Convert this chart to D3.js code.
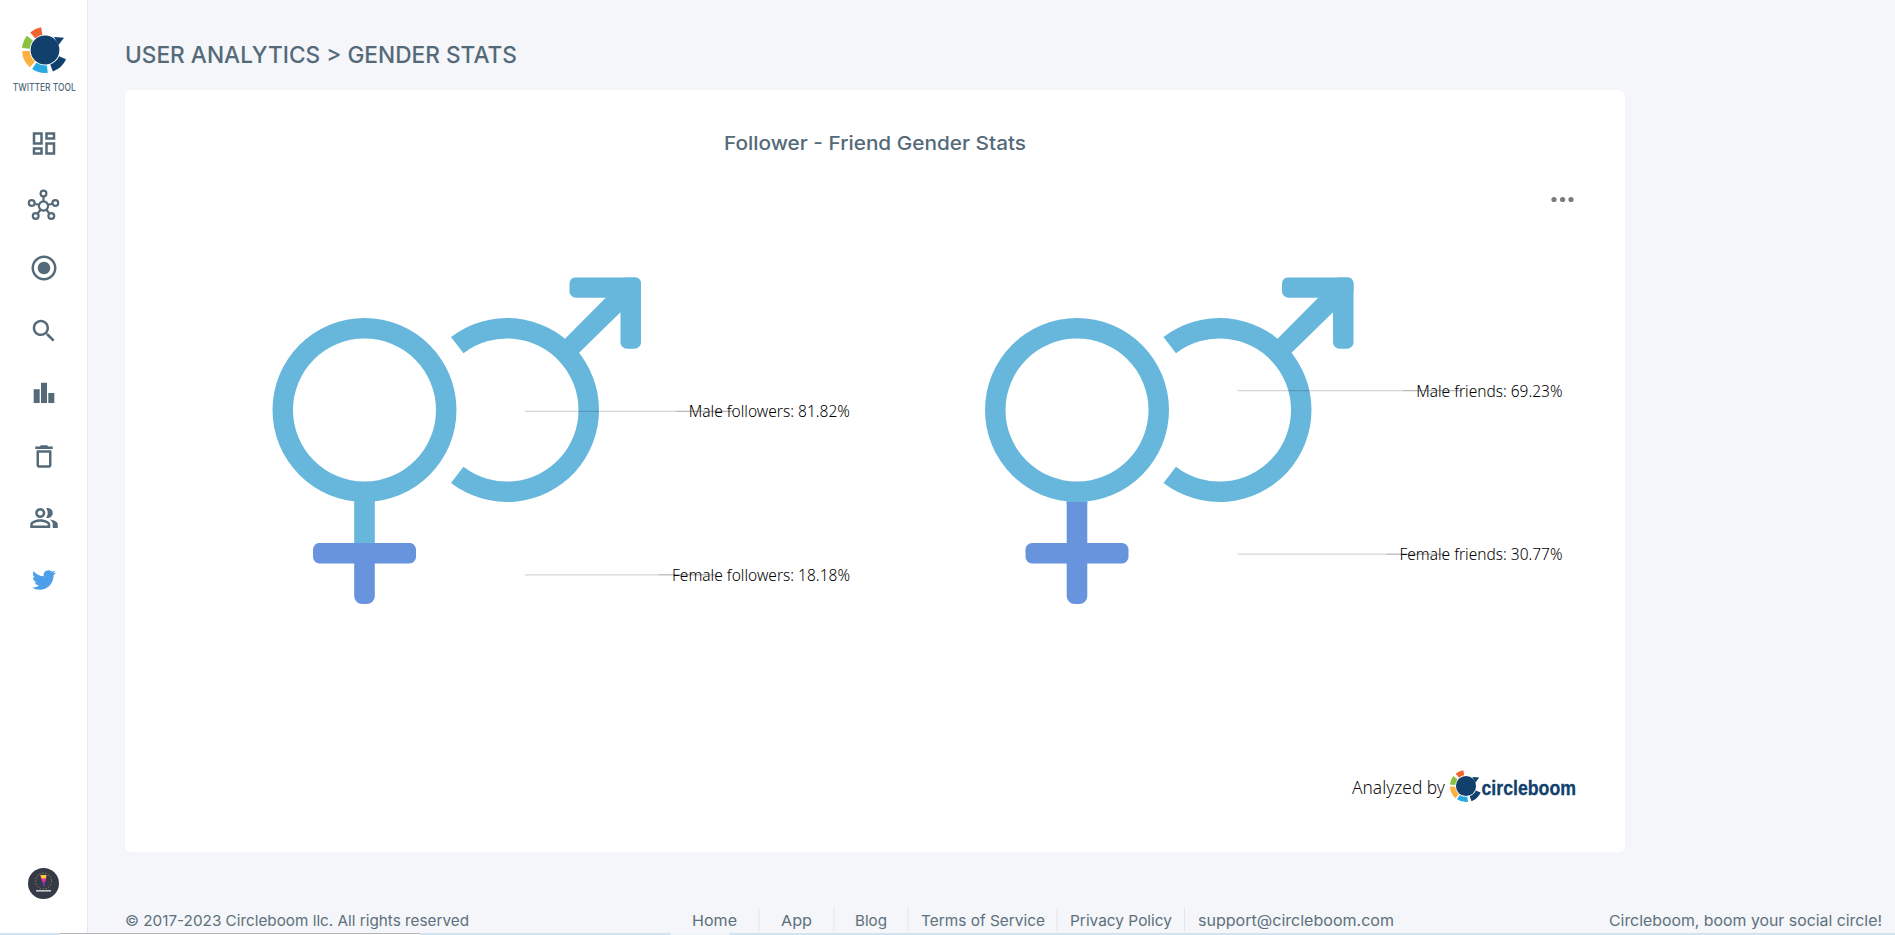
<!DOCTYPE html>
<html>
<head>
<meta charset="utf-8">
<script src="https://cdn.jsdelivr.net/npm/d3@7"></script>
<style>
  body { margin: 0; background: #f4f6fa; overflow: hidden; }
  svg { display: block; }
  text { font-family: Inter, "Noto Sans", sans-serif; }
  .label { font-family: "Noto Sans", sans-serif; }
</style>
</head>
<body>
<svg id="page" width="1895" height="935"></svg>
<script>
// chart values
var chartNames = ["followers", "friends"]
var sliceKeys = ["Female", "Male"]
var femaleValues = [18.18, 30.77]
var maleValues = [81.82, 69.23]
var sliceColors = ["#6794dc", "#67b7dc"]

// page text
var pageTitle = "USER ANALYTICS > GENDER STATS"
var cardTitle = "Follower - Friend Gender Stats"
var footerLinks = ["Home", "App", "Blog", "Terms of Service", "Privacy Policy", "support@circleboom.com"]
var footerLeft = "\u00a9 2017-2023 Circleboom llc. All rights reserved"
var footerRight = "Circleboom, boom your social circle!"

var textColor = "#546a79"
var footerColor = "#5e707c"
var svg = d3.select("#page")
var defs = svg.append("defs")

function deg(a) { return a * Math.PI / 180 }

// fixed-width text, the app font is not installed so widths are forced
function addText(parent, str, x, y, width, size, weight, color) {
  return parent.append("text")
    .attr("x", x).attr("y", y)
    .attr("dominant-baseline", "central")
    .attr("font-size", size)
    .attr("font-weight", weight || 400)
    .attr("fill", color || textColor)
    .attr("textLength", width)
    .attr("lengthAdjust", "spacingAndGlyphs")
    .text(str)
}

/* page frame */
svg.append("rect").attr("width", 87).attr("height", 935).attr("fill", "#fff")
svg.append("rect").attr("x", 87).attr("width", 1).attr("height", 935).attr("fill", "#e4e7f2")
svg.append("rect").attr("x", 125).attr("y", 90).attr("width", 1500).attr("height", 762)
  .attr("rx", 6).attr("fill", "#fff")

addText(svg, pageTitle, 125, 55, 392, 23, 500)
addText(svg, cardTitle, 724, 143, 302, 19, 500)

svg.selectAll(".dot")
  .data([1554, 1562.6, 1571])
  .enter()
  .append("circle")
    .attr("class", "dot")
    .attr("cx", d => d).attr("cy", 199.5).attr("r", 2.6)
    .attr("fill", "#7b7b7b")

/* circleboom logo */
function drawLogo(parent, cx, cy, k) {
  var g = parent.append("g").attr("transform", "translate(" + cx + "," + cy + ") scale(" + k + ")")
  var ring = d3.arc().innerRadius(15.4).outerRadius(23)
  var pieces = [
    [-40, -9.6, "#f0642f"],
    [-85, -52, "#8cc13f"],
    [-139, -93, "#fbb040"],
    [-187, -146, "#29a9e1"],
    [114, 160, "#11406d"]
  ]
  g.selectAll(".seg")
    .data(pieces)
    .enter()
    .append("path")
      .attr("d", d => ring({ startAngle: deg(d[0]), endAngle: deg(d[1]) }))
      .attr("fill", d => d[2])
  g.append("circle").attr("r", 14.4).attr("fill", "#11406d")
  g.append("path").attr("d", "M9 -13 L19 -12.3 L13.5 -5 Z").attr("fill", "#11406d")
}
drawLogo(svg, 45, 50, 1)
addText(svg, "TWITTER TOOL", 12.7, 87.5, 63, 10.5, 500)

/* sidebar icons */
var iconPaths = {
  dashboard: "M19 5v2h-4V5h4M9 5v6H5V5h4m10 8v6h-4v-6h4M9 17v2H5v-2h4M21 3h-8v6h8V3zM11 3H3v10h8V3zm10 8h-8v10h8V11zm-10 4H3v6h8v-6z",
  radio: "M12 7c-2.76 0-5 2.24-5 5s2.24 5 5 5 5-2.24 5-5-2.24-5-5-5zm0-5C6.48 2 2 6.48 2 12s4.48 10 10 10 10-4.48 10-10S17.52 2 12 2zm0 18c-4.42 0-8-3.58-8-8s3.58-8 8-8 8 3.58 8 8-3.58 8-8 8z",
  search: "M15.5 14h-.79l-.28-.27C15.41 12.59 16 11.11 16 9.5 16 5.91 13.09 3 9.5 3S3 5.91 3 9.5 5.91 16 9.5 16c1.61 0 3.09-.59 4.23-1.57l.27.28v.79l5 4.99L20.49 19l-4.99-5zm-6 0C7.01 14 5 11.99 5 9.5S7.01 5 9.5 5 14 7.01 14 9.5 11.99 14 9.5 14z",
  bars: "M3.75 9h4.8v11h-4.8zM9.6 3.8h4.8v16.2h-4.8zM15.45 12h4.8v8h-4.8z",
  trash: "M6 19c0 1.1.9 2 2 2h8c1.1 0 2-.9 2-2V7H6v12zM8 9h8v10H8V9zm7.5-5l-1-1h-5l-1 1H5v2h14V4z",
  people: "M16.67 13.13C18.04 14.06 19 15.32 19 17v3h4v-3c0-2.18-3.57-3.47-6.33-3.87zM15 12c2.21 0 4-1.79 4-4s-1.79-4-4-4c-.47 0-.91.1-1.33.24C14.5 5.27 15 6.58 15 8s-.5 2.73-1.33 3.76c.42.14.86.24 1.33.24zM9 12c2.21 0 4-1.79 4-4s-1.79-4-4-4-4 1.79-4 4 1.79 4 4 4zm0-6c1.1 0 2 .9 2 2s-.9 2-2 2-2-.9-2-2 .9-2 2-2zM9 13c-2.67 0-8 1.34-8 4v3h16v-3c0-2.66-5.33-4-8-4zm6 5H3v-.99C3.2 16.29 6.3 15 9 15s5.8 1.29 6 2v1z",
  twitter: "M23.953 4.57a10 10 0 01-2.825.775 4.958 4.958 0 002.163-2.723c-.951.555-2.005.959-3.127 1.184a4.92 4.92 0 00-8.384 4.482C7.69 8.095 4.067 6.13 1.64 3.162a4.822 4.822 0 00-.666 2.475c0 1.71.87 3.213 2.188 4.096a4.904 4.904 0 01-2.228-.616v.06a4.923 4.923 0 003.946 4.827 4.996 4.996 0 01-2.212.085 4.936 4.936 0 004.604 3.417 9.867 9.867 0 01-6.102 2.105c-.39 0-.779-.023-1.17-.067a13.995 13.995 0 007.557 2.209c9.053 0 13.998-7.496 13.998-13.985 0-.21 0-.42-.015-.63A9.935 9.935 0 0024 4.59z"
}
var sidebarIcons = [
  ["dashboard", 143.5, textColor, 1.25],
  ["radio", 268, textColor, 1.25],
  ["search", 331, textColor, 1.25],
  ["bars", 393, textColor, 1.25],
  ["trash", 456.5, textColor, 1.25],
  ["people", 518, textColor, 1.25],
  ["twitter", 580, "#4c9fe8", 1]
]
svg.selectAll(".icon")
  .data(sidebarIcons)
  .enter()
  .append("path")
    .attr("class", "icon")
    .attr("d", d => iconPaths[d[0]])
    .attr("fill", d => d[2])
    .attr("transform", d => "translate(" + (44 - 12 * d[3]) + "," + (d[1] - 12 * d[3]) + ") scale(" + d[3] + ")")

// network icon
var hub = svg.append("g").attr("transform", "translate(43.5,206)")
var hubNodes = [[0, -12.5], [-11.8, -3], [11.8, -3], [-7.8, 10], [7.8, 10]]
hub.selectAll("line")
  .data(hubNodes)
  .enter()
  .append("line")
    .attr("x2", d => d[0]).attr("y2", d => d[1])
    .attr("stroke", textColor).attr("stroke-width", 2.2)
hub.selectAll("circle")
  .data(hubNodes.concat([[0, 0]]))
  .enter()
  .append("circle")
    .attr("cx", d => d[0]).attr("cy", d => d[1])
    .attr("r", (d, i) => i == 5 ? 4.6 : 2.9)
    .attr("fill", "#fff")
    .attr("stroke", textColor).attr("stroke-width", 2.2)

// avatar
svg.append("circle").attr("cx", 43.5).attr("cy", 883.5).attr("r", 15.5).attr("fill", "#353a47")
svg.append("circle").attr("cx", 43.5).attr("cy", 881).attr("r", 8)
  .attr("fill", "none").attr("stroke", "#8f8448").attr("stroke-width", 1).attr("stroke-dasharray", "1.5 1.5")
svg.append("path").attr("d", "M40 875 L47 875 L44 887 Z").attr("fill", "#e0329a")
svg.append("path").attr("d", "M40.6 875 L46.4 875 L45.6 878.5 L41.6 878.5 Z").attr("fill", "#f7d13d")
svg.append("path").attr("d", "M42.6 882 L45 882 L44 887 Z").attr("fill", "#4a3fd0")
svg.append("rect").attr("x", 36).attr("y", 890).attr("width", 15).attr("height", 1.6).attr("fill", "#c4c7ce")

/* pictorial charts */
var symbolY = d3.scaleLinear().domain([0, 100]).range([604.5, 277.5])
var rowData = chartNames.map((name, i) => ({ name: name, Female: femaleValues[i], Male: maleValues[i] }))
var stackData = d3.stack().keys(sliceKeys)(rowData)
var chartX = d3.scalePoint().domain(chartNames).range([364.5, 1077])

// the gender symbol, drawn around the center of the female circle
function drawSymbol(g, color) {
  var ringArc = d3.arc().innerRadius(71.5).outerRadius(92)
  g.append("path")
    .attr("transform", "translate(0,410)")
    .attr("d", ringArc({ startAngle: 0, endAngle: 2 * Math.PI }))
  g.append("rect").attr("x", -10.3).attr("y", 490).attr("width", 20.6).attr("height", 114).attr("rx", 8)
  g.append("rect").attr("x", -51.5).attr("y", 543).attr("width", 103).attr("height", 20.5).attr("rx", 6.5)
  g.append("path")
    .attr("transform", "translate(142.5,410)")
    .attr("d", ringArc({ startAngle: deg(-37.5), endAngle: deg(217.5) }))
  g.append("path").attr("d", "M197.5 341.7 L211.5 355.7 L256 312.3 L268 285 L241.2 297.7 Z")
  g.append("rect").attr("x", 205).attr("y", 277).attr("width", 71.5).attr("height", 20.7).attr("rx", 6.5)
  g.append("rect").attr("x", 256).attr("y", 277).attr("width", 20.5).attr("height", 71.7).attr("rx", 6.5)
  g.attr("fill", color)
}

var charts = svg.selectAll(".chart")
  .data(chartNames)
  .enter()
  .append("g")
    .attr("class", "chart")
    .attr("transform", d => "translate(" + chartX(d) + ",0)")

charts.each(function(name, c) {
  var chart = d3.select(this)

  // male first, the female slice overlaps it a bit at the boundary
  stackData.slice().reverse().forEach(function(layer) {
    var v0 = layer[c][0], v1 = layer[c][1]
    var clipId = "clip-" + name + "-" + layer.key
    var top = symbolY(v1) - (layer.key == "Female" ? 2 : 0)
    defs.append("clipPath").attr("id", clipId)
      .append("rect")
        .attr("x", -120).attr("y", top)
        .attr("width", 420).attr("height", symbolY(v0) - top)
    var g = chart.append("g").attr("clip-path", "url(#" + clipId + ")")
    drawSymbol(g, sliceColors[sliceKeys.indexOf(layer.key)])
  })

  // labels go last so that the lines lie over the symbol
  stackData.forEach(function(layer) {
    var v0 = layer[c][0], v1 = layer[c][1]
    var y = symbolY((v0 + v1) / 2)
    var line = chart.append("g")
    var label = chart.append("text")
      .attr("class", "label")
      .attr("x", 485.5).attr("y", y)
      .attr("text-anchor", "end")
      .attr("dominant-baseline", "central")
      .attr("font-size", 15)
      .attr("fill", "#111")
      .text(layer.key + " " + name + ": " + (v1 - v0).toFixed(2) + "%")
    var width = label.node().getComputedTextLength()
    // taller, thinner glyphs at the same width, as in the original font
    label.attr("font-size", 16).attr("font-weight", 300).attr("fill", "#000")
      .attr("textLength", width).attr("lengthAdjust", "spacingAndGlyphs")
    var start = 485.5 - width
    line.append("line")
      .attr("x1", 160.5).attr("x2", start + 45)
      .attr("y1", y).attr("y2", y)
      .attr("stroke", "#000").attr("stroke-opacity", 0.16).attr("stroke-width", 1.2)
    line.append("line")
      .attr("x1", start - 13).attr("x2", start + 45)
      .attr("y1", y).attr("y2", y)
      .attr("stroke", "#000").attr("stroke-opacity", 0.18)
  })
})

/* analyzed by */
svg.append("text")
  .attr("class", "label")
  .attr("x", 1352).attr("y", 787)
  .attr("dominant-baseline", "central")
  .attr("font-size", 18).attr("font-weight", 300)
  .attr("fill", "#111")
  .attr("textLength", 93).attr("lengthAdjust", "spacingAndGlyphs")
  .text("Analyzed by")
drawLogo(svg, 1466, 786, 0.7)
addText(svg, "circleboom", 1481.5, 787, 94.5, 20.5, 700, "#11406d")
  .style("font-family", "'Liberation Sans', sans-serif")
  .attr("stroke", "#11406d").attr("stroke-width", 0.3)

/* footer */
addText(svg, footerLeft, 125, 920, 344, 15, 400, footerColor)
var footerX = [692, 781, 855, 921, 1070, 1198]
var footerW = [45, 31, 32, 124, 102, 196]
footerLinks.forEach(function(link, i) {
  addText(svg, link, footerX[i], 920, footerW[i], 15, 400, footerColor)
})
svg.selectAll(".divider")
  .data([759, 834, 908, 1057, 1184.5])
  .enter()
  .append("line")
    .attr("class", "divider")
    .attr("x1", d => d).attr("x2", d => d)
    .attr("y1", 908).attr("y2", 931)
    .attr("stroke", "#e2e5ec")
addText(svg, footerRight, 1609, 920, 273, 15, 400, footerColor)

// strip of the taskbar at the very bottom of the screenshot
svg.append("rect").attr("y", 933).attr("width", 1895).attr("height", 2).attr("fill", "#cfe4f0")
svg.append("rect").attr("x", 60).attr("y", 933).attr("width", 360).attr("height", 2).attr("fill", "#fff")
svg.append("rect").attr("x", 60).attr("y", 933).attr("width", 360).attr("height", 1).attr("fill", "#b5b5b5")
svg.append("rect").attr("x", 670).attr("y", 933).attr("width", 60).attr("height", 2).attr("fill", "#edf3f7")
</script>
</body>
</html>
